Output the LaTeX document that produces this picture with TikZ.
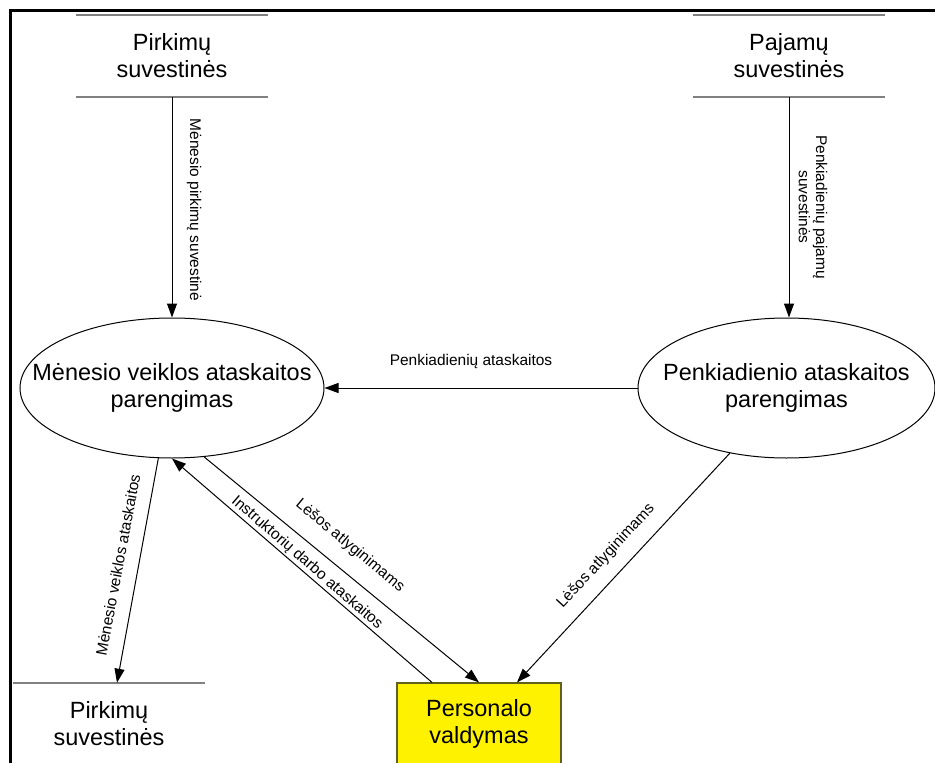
\documentclass[tikz,border=0pt]{standalone}
\usepackage{fontspec}
\setmainfont{Liberation Sans}
\usetikzlibrary{shapes.geometric,arrows.meta}
\definecolor{storegray}{RGB}{128,128,128}
\definecolor{boxedge}{RGB}{96,96,32}
\begin{document}
\begin{tikzpicture}[x=0.75pt,y=-0.75pt,
  bigtext/.style={font=\fontsize{17.6pt}{20.3pt}\selectfont, align=center},
  smalltext/.style={font=\fontsize{11.6pt}{12.9pt}\selectfont, align=center, inner sep=0pt},
  process/.style={ellipse, draw, line width=0.75pt, inner sep=0pt, minimum height=105pt},
  store/.style={minimum width=144pt, minimum height=61.5pt, inner sep=0pt, bigtext},
  storeline/.style={draw=storegray, line width=1.3pt},
  flow/.style={line width=0.75pt, -{Triangle[length=10.5pt,width=7.5pt]}},
  unit/.style={draw=boxedge, fill=yellow, line width=0.9pt, minimum width=123pt,
               minimum height=61.5pt, inner sep=0pt, bigtext},
  frame/.style={line width=1.9pt}]

\useasboundingbox (0,0) rectangle (935,763);
\clip (0,0) rectangle (935,763);

% outer frame (left and top edges)
\draw[frame] (10.5,763) -- (10.5,10.5) -- (935,10.5);

% data stores
\node[store] (ps) at (172,56) {Pirkimų\\suvestinės};
\node[store] (js) at (789,56) {Pajamų\\suvestinės};
\node[store] (bs) at (109,724) {Pirkimų\\suvestinės};
\foreach \s in {ps,js,bs}{
  \draw[storeline] (\s.north west) -- (\s.north east);
  \draw[storeline] (\s.south west) -- (\s.south east);
}

% processes
\node[process, minimum width=228pt] (mv) at (172,388) {};
\node[bigtext] (mvt) at (mv) {Mėnesio veiklos ataskaitos\\parengimas};
\node[process, minimum width=222.75pt] (pa) at (786.5,388) {};
\node[bigtext] (pat) at (pa) {Penkiadienio ataskaitos\\parengimas};

% external unit
\node[unit] (pv) at (479,724) {Personalo\\valdymas};

% data flows
\draw[flow] (ps.south) -- (mv.north);
\draw[flow] (js.south) -- (js.south |- pa.north);
\draw[flow] (pa.west) -- (mv.east);
\draw[flow] (mv.259) -- ([xshift=6pt]bs.north);
\draw[flow] (mv.295) -- (pv.north);
\draw[flow] ([xshift=-35.25pt]pv.north) -- (mv.south);
\draw[flow] (pa.229) -- ([xshift=28.5pt]pv.north);

% flow labels
\node[smalltext, rotate=-90] (t1) at (194,210) {Mėnesio pirkimų suvestinė};
\node[smalltext, rotate=-90] (t2) at (813,207) {Penkiadienių pajamų\\suvestinės};
\node[smalltext] (t3) at (471,362) {Penkiadienių ataskaitos};
\node[smalltext, rotate=79.3] (t4) at (118,565) {Mėnesio veiklos ataskaitos};
\node[smalltext, rotate=-39.6] (t5) at (350,546) {Lėšos atlyginimams};
\node[smalltext, rotate=-40.9] (t6) at (307,563) {Instruktorių darbo ataskaitos};
\node[smalltext, rotate=47.3] (t7) at (606,556) {Lėšos atlyginimams};
\end{tikzpicture}
\end{document}
